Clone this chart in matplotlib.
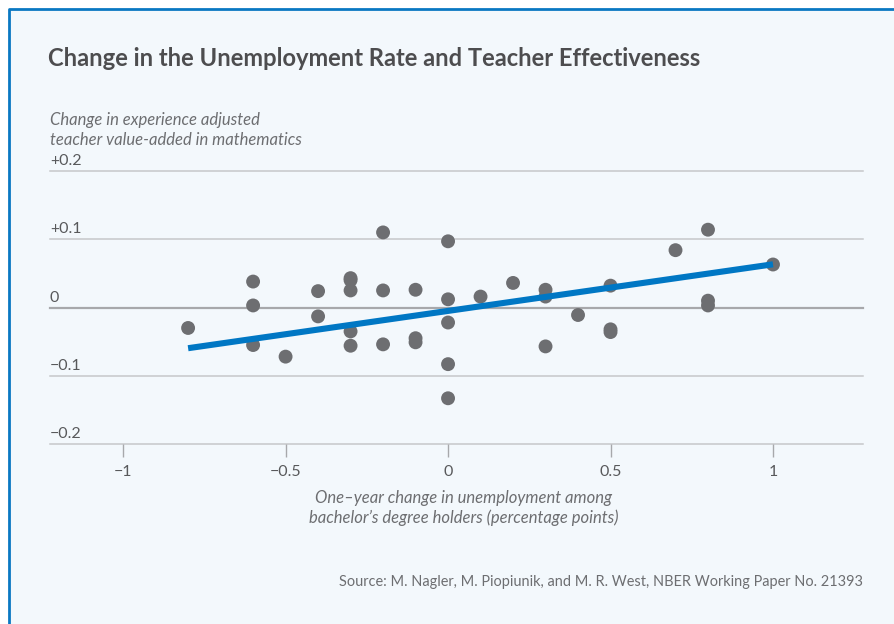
import numpy as np
import matplotlib.pyplot as plt
from matplotlib.patches import Rectangle
from matplotlib.lines import Line2D

# one-year change in unemployment (pp) and change in teacher value-added
x_change = [-0.8,
            -0.6, -0.6, -0.6,
            -0.5,
            -0.4, -0.4,
            -0.3, -0.3, -0.3, -0.3, -0.3,
            -0.2, -0.2, -0.2,
            -0.1, -0.1, -0.1,
            0.0, 0.0, 0.0, 0.0, 0.0,
            0.1,
            0.2,
            0.3, 0.3, 0.3,
            0.4,
            0.5, 0.5, 0.5,
            0.7,
            0.8, 0.8, 0.8,
            1.0]
y_value = [-0.030,
           0.038, 0.003, -0.055,
           -0.072,
           0.024, -0.013,
           0.043, 0.040, 0.025, -0.035, -0.056,
           0.110, 0.025, -0.054,
           0.026, -0.045, -0.051,
           0.097, 0.012, -0.022, -0.083, -0.133,
           0.016,
           0.036,
           0.026, 0.016, -0.057,
           -0.011,
           0.032, -0.032, -0.036,
           0.084,
           0.114, 0.010, 0.003,
           0.063]

# fitted line as drawn in the chart
fit_slope = 0.0683
fit_intercept = -0.005

x_ticks = [-1, -0.5, 0, 0.5, 1]
x_tick_labels = ['\u22121', '\u22120.5', '0', '0.5', '1']
y_ticks = [0.2, 0.1, 0, -0.1, -0.2]
y_tick_labels = ['+0.2', '+0.1', '0', '\u22120.1', '\u22120.2']

title = 'Change in the Unemployment Rate and Teacher Effectiveness'
y_label = 'Change in experience adjusted\nteacher value-added in mathematics'
x_label = 'One\u2013year change in unemployment among\nbachelor\u2019s degree holders (percentage points)'
source = 'Source: M. Nagler, M. Piopiunik, and M. R. West, NBER Working Paper No. 21393'

W, H = 895, 624
plt.rcParams['font.family'] = ['Lato', 'DejaVu Sans']

fig = plt.figure(figsize=(W / 100, H / 100), dpi=100)
fig.patch.set_facecolor('white')

# light panel with a blue edge on top and left
x0, y0 = 9 / W, 1 - 9 / H
fig.patches.append(Rectangle((x0, 0), 1 - x0, y0, transform=fig.transFigure,
                             facecolor='#f3f8fc', edgecolor='none', zorder=-5))
fig.lines.append(Line2D([x0, x0, 1], [0, y0, y0], transform=fig.transFigure,
                        color='#0a78c2', lw=2.0, zorder=-4))

ax = fig.add_axes([50 / W, 1 - 444 / H, (863 - 50) / W, (444 - 171) / H])
ax.set_facecolor('none')
ax.set_xlim(-1.225, 1.277)
ax.set_ylim(-0.2, 0.2)
for s in ax.spines.values():
    s.set_visible(False)

# horizontal gridlines with labels sitting on top
for yt, lab in zip(y_ticks, y_tick_labels):
    ax.axhline(yt, color='#a7a8ab' if yt == 0 else '#c6c7ca',
               lw=1.6 if yt == 0 else 1.1, zorder=1, clip_on=False)
    ax.annotate(lab, xy=(0, yt), xycoords=('axes fraction', 'data'),
                xytext=(0, 2), textcoords='offset points',
                ha='left', va='bottom', fontsize=11.5, color='#58595b')
ax.set_yticks([])

ax.set_xticks(x_ticks)
ax.set_xticklabels(x_tick_labels, fontsize=11.5, color='#58595b')
ax.tick_params(axis='x', direction='out', length=9, width=1, color='#a7a8ab', pad=6)

ax.scatter(x_change, y_value, s=100, color='#6d6e71', edgecolors='none', zorder=3)

xs = np.array([min(x_change), max(x_change)])
ax.plot(xs, fit_intercept + fit_slope * xs, color='#0077c4', lw=4.4,
        solid_capstyle='butt', zorder=4)

fig.text(48 / W, 1 - 58 / H, title, fontsize=17.1, fontweight='bold',
         color='#4d4d4f', ha='left', va='center')
fig.text(50 / W, 1 - 130 / H, y_label, fontsize=12, style='italic',
         color='#6d6e71', ha='left', va='center', linespacing=1.3)
fig.text(464 / W, 1 - 508 / H, x_label, fontsize=12, style='italic',
         color='#6d6e71', ha='center', va='center', linespacing=1.3)
fig.text(863 / W, 1 - 582 / H, source, fontsize=10.45, color='#6d6e71',
         ha='right', va='center')

fig.savefig('out.png', dpi=100, facecolor=fig.get_facecolor())
